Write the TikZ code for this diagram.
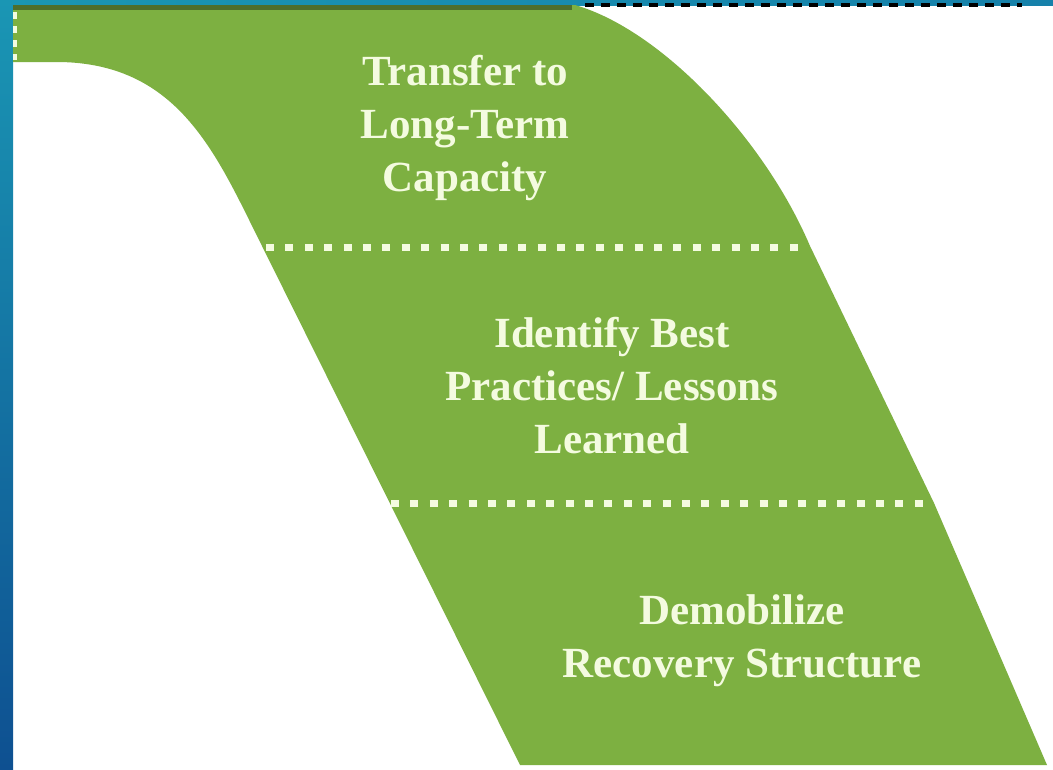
\documentclass[tikz,border=0pt]{standalone}
\usepackage{fontspec}
\setmainfont{Liberation Serif}
\usetikzlibrary{positioning}

\definecolor{leafgreen}{RGB}{125,176,65}
\definecolor{darkleaf}{RGB}{78,110,44}
\definecolor{paletext}{RGB}{244,251,224}
\definecolor{bandteal}{RGB}{26,150,180}
\definecolor{bandblue}{RGB}{14,80,145}

\tikzset{
	steptext/.style={text=paletext, align=center, font=\fontsize{43}{53}\selectfont\bfseries},
	stepline/.style={draw=paletext, line width=7pt, dash pattern=on 8pt off 11.4pt},
	capline/.style={draw=black, line width=4pt, dash pattern=on 9pt off 7pt}
}

\begin{document}
\begin{tikzpicture}[x=1pt, y=-1pt]
	\useasboundingbox (0,0) rectangle (1053,769);
	\fill[white] (0,0) rectangle (1053,769);
	% frame of the slide
	\shade[left color=bandteal, right color=bandteal!70!bandblue] (0,0) rectangle (1053,5);
	\shade[top color=bandteal, bottom color=bandblue] (0,0) rectangle (13,769);
	% the green band
	\fill[leafgreen] (13,5) -- (575,5)
		.. controls (662,30) and (765,140) .. (810,246)
		-- (934,503) -- (1047,765) -- (520,765) -- (262,246)
		.. controls (217,156) and (180,64) .. (60,62)
		-- (13,62) -- cycle;
	\fill[darkleaf] (13,5) rectangle (572,10);
	\coordinate (topleft) at (15,12);
	\coordinate (leftend) at (15,60);
	\draw[stepline, line width=4pt, dash pattern=on 7pt off 7pt] (topleft) -- (leftend);
	\coordinate (capstart) at (585,5);
	\coordinate (capend) at (1022,5);
	\draw[capline] (capstart) -- (capend);
	% step borders
	\coordinate (upperleft) at (266,247);
	\coordinate (upperright) at (806,247);
	\coordinate (lowerleft) at (391,503);
	\coordinate (lowerright) at (932,503);
	\draw[stepline] (upperleft) -- (upperright);
	\draw[stepline] (lowerleft) -- (lowerright);
	% the steps
	\node[steptext] (transfer) at (465,128) {Transfer to\\Long-Term\\Capacity};
	\node[steptext] (lessons) at (612,386) {Identify Best\\Practices/ Lessons\\Learned};
	\node[steptext] (demobilize) at (742,641) {Demobilize\\Recovery Structure};
\end{tikzpicture}
\end{document}
